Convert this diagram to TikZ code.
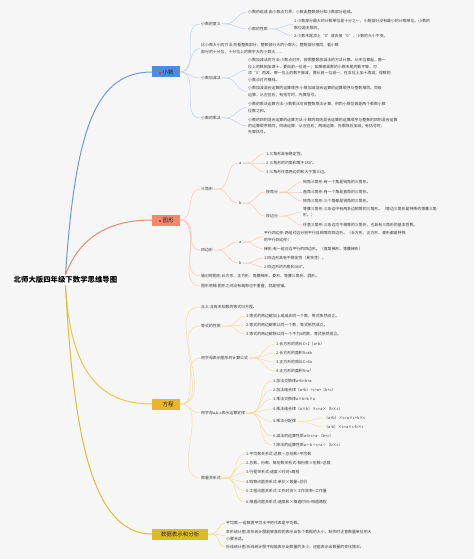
\documentclass[tikz,border=0pt]{standalone}
\usepackage{fontspec}
\setmainfont{Noto Sans CJK SC}
\XeTeXlinebreaklocale "zh"
\definecolor{bgc}{HTML}{F6F6F6}
\definecolor{txtc}{HTML}{3A3A3A}
\definecolor{iconred}{HTML}{E03C31}
\definecolor{xsfill}{HTML}{4C8EDB}
\definecolor{xsline}{HTML}{6E9AD2}
\definecolor{xslight}{HTML}{C3D2E6}
\definecolor{txfill}{HTML}{F2876B}
\definecolor{txline}{HTML}{E98A6C}
\definecolor{txlight}{HTML}{F4C9BA}
\definecolor{fcfill}{HTML}{EBB52B}
\definecolor{fcline}{HTML}{E9C649}
\definecolor{fclight}{HTML}{F1DFA4}
\definecolor{sjfill}{HTML}{DCBC1F}
\definecolor{sjline}{HTML}{D8BF33}
\definecolor{sjlight}{HTML}{E9DA8C}
\newcommand{\tubiao}{{\color{iconred}\rule{2.4pt}{2.4pt}}\hspace{1.6pt}}
\begin{document}
\begin{tikzpicture}[x=1pt,y=-1pt,
  rootnode/.style={anchor=west, fill=white, inner sep=1.5pt, font=\bfseries\fontsize{7.4}{8}\selectfont},
  topic/.style={anchor=west, minimum height=11pt, inner sep=1pt, font=\fontsize{5.5}{6}\selectfont, text=black!85},
  leaf/.style={anchor=west, inner sep=1pt, align=left, text=txtc, font=\fontsize{3.9}{6.4}\selectfont},
  mainln/.style={line width=1pt},
  subln/.style={line width=0.5pt}]
\fill[bgc] (0,0) rectangle (474,559);
% root and main topics
\node[rootnode] (root) at (12,280) {北师大版四年级下数学思维导图};
\node[topic, fill=xsfill, minimum width=28pt] (xs) at (152,72) {\tubiao 小数};
\node[topic, fill=txfill, minimum width=28pt] (tx) at (152,220) {\tubiao 图形};
\node[topic, fill=fcfill, minimum width=28pt] (fc) at (152,404) {\hspace{4pt}方程};
\node[topic, fill=sjfill, minimum width=56pt] (sj) at (152,534) {数据表示和分析};
\draw[mainln, xsline] (root.north) .. controls +(10,-150) and +(-55,0) .. (xs.west);
\draw[mainln, txline] (root.north) .. controls +(15,-40) and +(-40,0) .. (tx.west);
\draw[mainln, fcline] (root.south) .. controls +(5,90) and +(-50,0) .. (fc.west);
\draw[mainln, sjline] (root.south) .. controls +(8,150) and +(-60,0) .. (sj.west);

% 小数
\node[leaf] (xs1) at (200,24) {小数的意义};
\node[leaf] (xs2) at (200,48.5) {比小数大小的方法:先看整数部分，整数部分大的小数大；整数部分相同，看小数\\部分的十分位，十分位上的数字大的小数大......};
\node[leaf] (xs3) at (200,78) {小数加减法};
\node[leaf] (xs4) at (200,118) {小数的乘法};
\node[leaf] (xs11) at (247,12) {小数的组成:由小数点为界，小数由整数部分和小数部分组成。};
\node[leaf] (xs12) at (247,29) {小数的性质};
\node[leaf] (xs121) at (293,24.5) {1.小数部分最大的计数单位是十分之一，小数部分没有最小的计数单位。小数的\\数位是无限的。};
\node[leaf] (xs122) at (293,36) {2.小数末尾添上“0”或去掉“0”，小数的大小不变。};
\node[leaf] (xs31) at (247,70) {小数加减法的方法:小数点对齐，按照整数加减法的方法计算。从末位算起，哪一\\位上的数相加满十，要向前一位进一；如果被减数的小数末尾的数不够，可\\添“0”再减，哪一位上的数不够减，要从前一位退一，在本位上加十再减；得数的\\小数点对齐横线。};
\node[leaf] (xs32) at (247,91.5) {小数加减混合运算的运算顺序:小数加减混合运算的运算顺序与整数相同。同级\\运算，从左往右；有括号时，先算括号。};
\node[leaf] (xs41) at (247,107.5) {小数的乘法运算方法:小数乘法可按整数乘法计算，积的小数位数是两个乘数小数\\位数之和。};
\node[leaf] (xs42) at (247,126) {小数的四则混合运算的运算方法:小数的四则混合运算的运算顺序与整数的四则混合运算\\的运算顺序相同；同级运算，从左往右；两级运算，先乘除后加减；有括号时，\\先算括号。};
\foreach \c in {xs1,xs2,xs3,xs4} \draw[subln, xslight] (xs.east) to[out=0,in=180] (\c.west);
\foreach \c in {xs11,xs12} \draw[subln, xslight] (xs1.east) -- ++(4,0) to[out=0,in=180] (\c.west);
\foreach \c in {xs121,xs122} \draw[subln, xslight] (xs12.east) -- ++(4,0) to[out=0,in=180] (\c.west);
\foreach \c in {xs31,xs32} \draw[subln, xslight] (xs3.east) -- ++(4,0) to[out=0,in=180] (\c.west);
\foreach \c in {xs41,xs42} \draw[subln, xslight] (xs4.east) -- ++(4,0) to[out=0,in=180] (\c.west);

% 图形
\node[leaf] (tx1) at (200,189) {三角形};
\node[leaf] (tx2) at (200,250) {四边形};
\node[leaf] (tx3) at (200,276) {轴对称图形:长方形、正方形、等腰梯形、菱形、等腰三角形、圆形。};
\node[leaf] (tx4) at (200,286) {图形密铺:图形之间没有缝隙也不重叠，就是密铺。};
\node[leaf] (tx1a) at (238,163) {a};
\node[leaf] (tx1b) at (238,203) {b};
\node[leaf] (tx1a1) at (265,154) {1.三角形具有稳定性。};
\node[leaf] (tx1a2) at (265,163) {2.三角形的内角和等于180°。};
\node[leaf] (tx1a3) at (265,172) {3.三角形任意两边的和大于第三边。};
\node[leaf] (tx1b1) at (265,192) {按角分};
\node[leaf] (tx1b2) at (265,216) {按边分};
\node[leaf] (tx1b11) at (302,182) {钝角三角形:有一个角是钝角的三角形。};
\node[leaf] (tx1b12) at (302,192) {直角三角形:有一个角是直角的三角形。};
\node[leaf] (tx1b13) at (302,201) {锐角三角形:三个角都是锐角的三角形。};
\node[leaf] (tx1b21) at (302,212) {等腰三角形:三条边中有两条边相等的三角形。（等边三角形是特殊的等腰三角\\形。）};
\node[leaf] (tx1b22) at (302,225) {任意三角形:三条边均不相等的三角形，也具有三角形的基本性质。};
\node[leaf] (tx2a) at (238,242) {a};
\node[leaf] (tx2b) at (238,263) {b};
\node[leaf] (tx2a1) at (263,236.5) {平行四边形:两组对边分别平行且相等的四边形。（长方形、正方形、菱形都是特殊\\的平行四边形）};
\node[leaf] (tx2a2) at (263,249) {梯形:有一组对边平行的四边形。（直角梯形、等腰梯形）};
\node[leaf] (tx2b1) at (263,258) {1.四边形具有不稳定性（易变性）。};
\node[leaf] (tx2b2) at (263,267) {2.四边形的内角和360°。};
\foreach \c in {tx1,tx2,tx3,tx4} \draw[subln, txlight] (tx.east) to[out=0,in=180] (\c.west);
\foreach \c in {tx1a,tx1b} \draw[subln, txlight] (tx1.east) -- ++(4,0) to[out=0,in=180] (\c.west);
\foreach \c in {tx1a1,tx1a2,tx1a3} \draw[subln, txlight] (tx1a.east) -- ++(4,0) to[out=0,in=180] (\c.west);
\foreach \c in {tx1b1,tx1b2} \draw[subln, txlight] (tx1b.east) -- ++(4,0) to[out=0,in=180] (\c.west);
\foreach \c in {tx1b11,tx1b12,tx1b13} \draw[subln, txlight] (tx1b1.east) -- ++(4,0) to[out=0,in=180] (\c.west);
\foreach \c in {tx1b21,tx1b22} \draw[subln, txlight] (tx1b2.east) -- ++(4,0) to[out=0,in=180] (\c.west);
\foreach \c in {tx2a,tx2b} \draw[subln, txlight] (tx2.east) -- ++(4,0) to[out=0,in=180] (\c.west);
\foreach \c in {tx2a1,tx2a2} \draw[subln, txlight] (tx2a.east) -- ++(4,0) to[out=0,in=180] (\c.west);
\foreach \c in {tx2b1,tx2b2} \draw[subln, txlight] (tx2b.east) -- ++(4,0) to[out=0,in=180] (\c.west);

% 方程
\node[leaf] (fc1) at (200,307) {含义:含有未知数的等式叫方程。};
\node[leaf] (fc2) at (200,326) {等式的性质};
\node[leaf] (fc3) at (200,358) {用字母表示图形的计算公式};
\node[leaf] (fc4) at (200,413) {用字母a,b,c表示运算定律};
\node[leaf] (fc5) at (200,478) {数量关系式};
\node[leaf] (fc21) at (245,316) {1.等式的两边都加上或减去同一个数，等式依然成立。};
\node[leaf] (fc22) at (245,325) {2.等式的两边都乘以同一个数，等式依然成立。};
\node[leaf] (fc23) at (245,334) {3.等式的两边都除以同一个不为0的数，等式依然成立。};
\node[leaf] (fc31) at (275,344) {1.长方形的周长C=2（a+b）};
\node[leaf] (fc32) at (275,353) {2.长方形的面积S=ab};
\node[leaf] (fc33) at (275,362) {3.正方形的周长C=4a};
\node[leaf] (fc34) at (275,371) {4.正方形的面积S=a²};
\node[leaf] (fc41) at (272,381) {1.加法交换律a+b=b+a};
\node[leaf] (fc42) at (272,390) {2.加法结合律（a+b）+c=a+（b+c）};
\node[leaf] (fc43) at (272,399) {3.乘法交换律a×b=b×a};
\node[leaf] (fc44) at (272,409) {4.乘法结合律（a×b）×c=a×（b×c）};
\node[leaf] (fc45) at (272,421.5) {5.乘法分配律};
\node[leaf] (fc46) at (272,436) {6.减法的运算性质a-b-c=a-（b+c）};
\node[leaf] (fc47) at (272,445) {7.除法的运算性质a÷b÷c=a÷（b×c）};
\node[leaf] (fc451) at (323,418) {（a+b）×c=a×c+b×c};
\node[leaf] (fc452) at (323,427) {（a-b）×c=a×c-b×c};
\node[leaf] (fc51) at (245,454) {1.平均数关系式:总数÷总份数=平均数};
\node[leaf] (fc52) at (245,463) {2.总数、份数、每份数关系式:每份数×份数=总数};
\node[leaf] (fc53) at (245,472.5) {3.行程关系式:速度×时间=路程};
\node[leaf] (fc54) at (245,482) {4.购物问题关系式:单价×数量=总价};
\node[leaf] (fc55) at (245,491) {5.工程问题关系式:工作时间×工作效率=工作量};
\node[leaf] (fc56) at (245,502) {6.相遇问题关系式:速度和×相遇时间=相遇路程};
\foreach \c in {fc1,fc2,fc3,fc4,fc5} \draw[subln, fclight] (fc.east) to[out=0,in=180] (\c.west);
\foreach \c in {fc21,fc22,fc23} \draw[subln, fclight] (fc2.east) -- ++(6,0) to[out=0,in=180] (\c.west);
\foreach \c in {fc31,fc32,fc33,fc34} \draw[subln, fclight] (fc3.east) -- ++(4,0) to[out=0,in=180] (\c.west);
\foreach \c in {fc41,fc42,fc43,fc44,fc45,fc46,fc47} \draw[subln, fclight] (fc4.east) -- ++(4,0) to[out=0,in=180] (\c.west);
\foreach \c in {fc451,fc452} \draw[subln, fclight] (fc45.east) -- ++(4,0) to[out=0,in=180] (\c.west);
\foreach \c in {fc51,fc52,fc53,fc54,fc55,fc56} \draw[subln, fclight] (fc5.east) -- ++(4,0) to[out=0,in=180] (\c.west);

% 数据表示和分析
\node[leaf] (sj1) at (225,523) {平均数:一组数据平均水平的代表是平均数。};
\node[leaf] (sj2) at (225,535.5) {条形统计图:条形统计图能够直观的表示出各个数据的大小，制作时注意数量单位的大\\小要合适。};
\node[leaf] (sj3) at (225,547) {折线统计图:折线统计图不但能表示出数量的多少，还能表示出数量的变化情况。};
\foreach \c in {sj1,sj2,sj3} \draw[subln, sjlight] (sj.east) -- ++(4,0) to[out=0,in=180] (\c.west);
\end{tikzpicture}
\end{document}
